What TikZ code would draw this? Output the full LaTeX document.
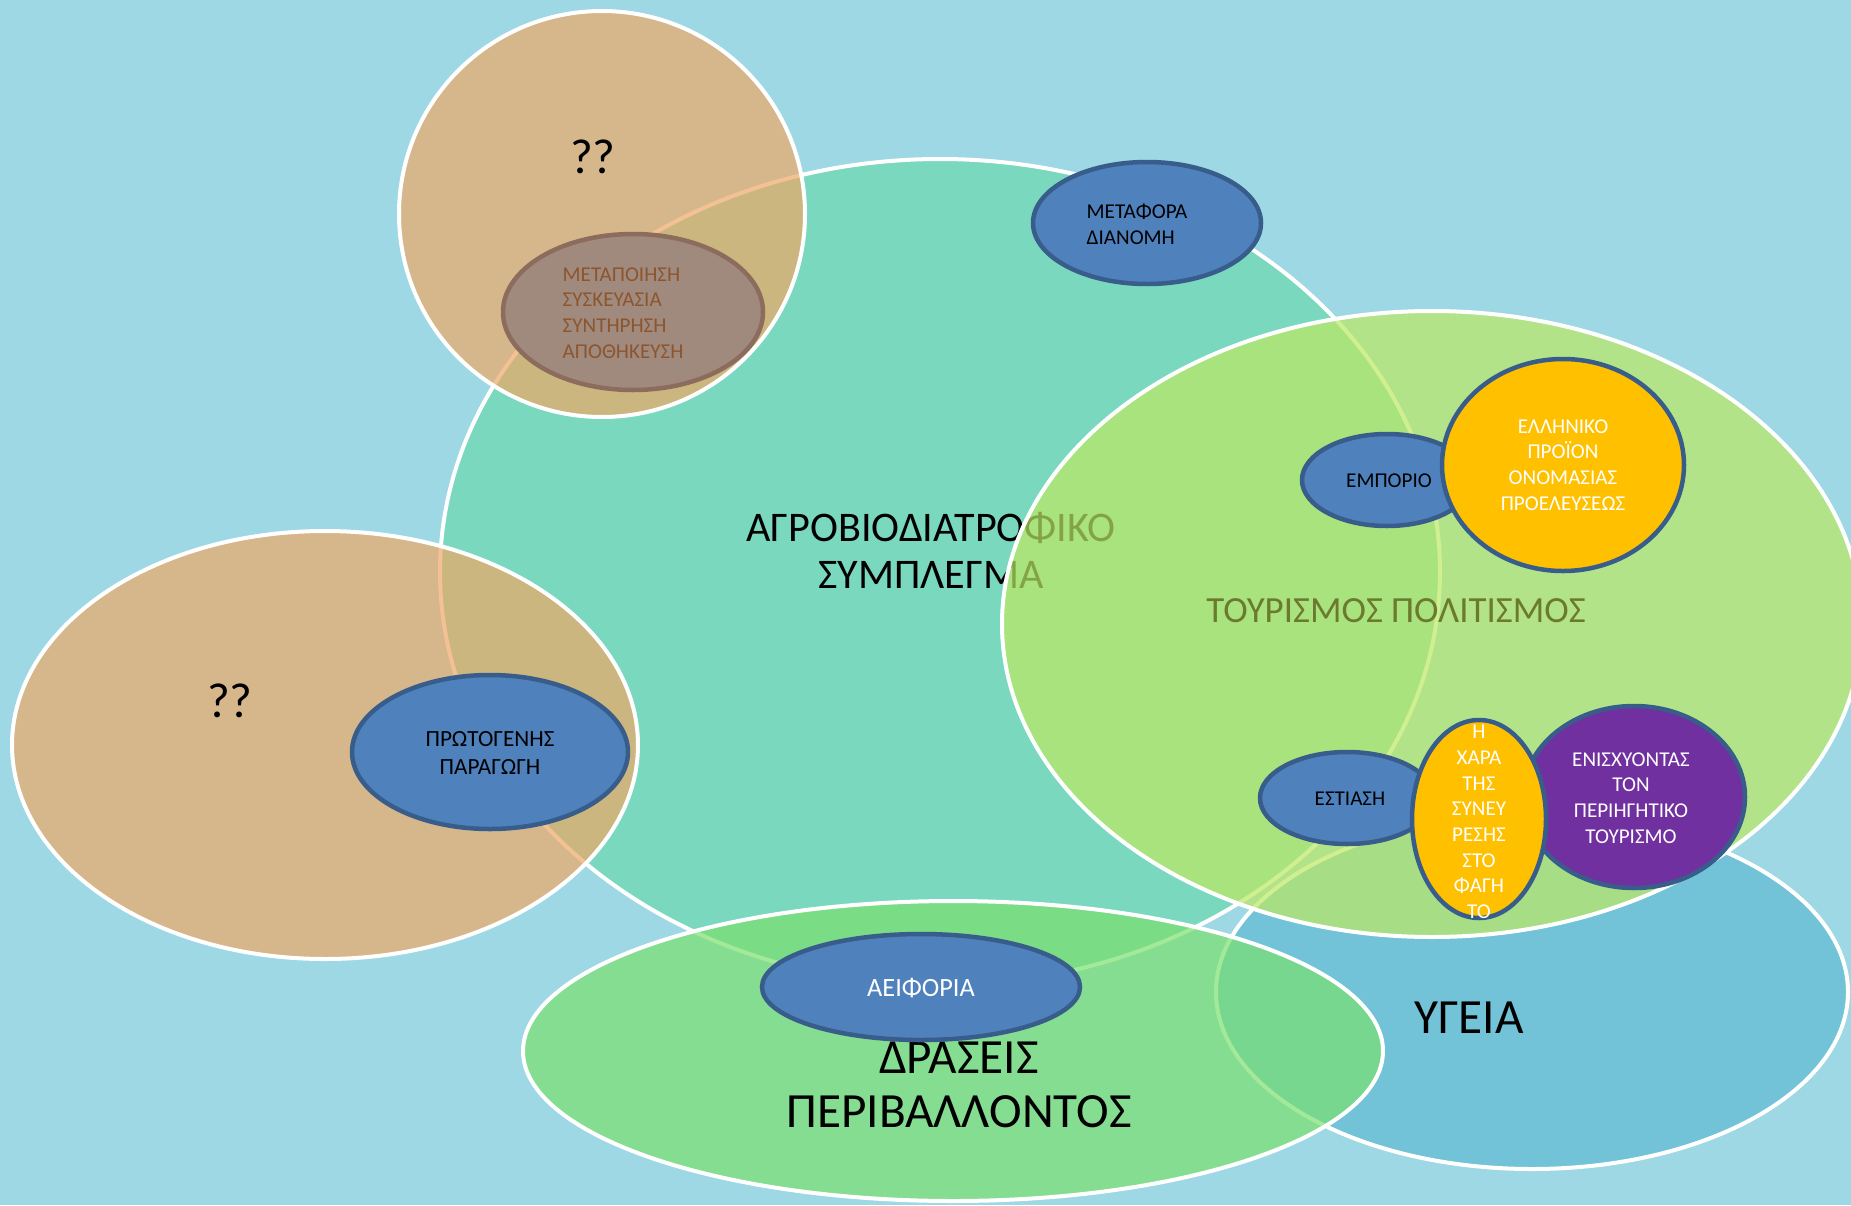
\documentclass[tikz,border=0pt]{standalone}
\usepackage{fontspec}
\setmainfont{Carlito}
\usetikzlibrary{shapes.geometric}

\definecolor{sea}{HTML}{9DD8E4}
\definecolor{agrofill}{HTML}{6CD8B0}
\definecolor{healthfill}{HTML}{61BBD3}
\definecolor{envfill}{HTML}{7BE06F}
\definecolor{tourfill}{HTML}{BDE963}
\definecolor{tanfill}{HTML}{EFA866}
\definecolor{nodeblue}{HTML}{4F81BD}
\definecolor{edgeblue}{HTML}{385D8A}
\definecolor{gold}{HTML}{FFC000}
\definecolor{grape}{HTML}{7030A0}
\definecolor{mudfill}{HTML}{A08A7E}
\definecolor{mudedge}{HTML}{8C6D5D}
\definecolor{mudtext}{HTML}{8C552D}
\definecolor{olivetext}{HTML}{6B7A2E}

\begin{document}
\begin{tikzpicture}[x=0.1mm,y=-0.1mm,
    zone/.style={ellipse,draw=white,line width=0.4mm,fill opacity=0.7,inner sep=0pt},
    topic/.style={ellipse,draw=edgeblue,line width=0.45mm,inner sep=0pt},
    txt/.style={align=center,inner sep=0pt},
    small/.style={font=\fontsize{6}{7.3}\selectfont},
    big/.style={font=\fontsize{14}{15.4}\selectfont}]
    \useasboundingbox (0,0) rectangle (1851,1205);
    \clip (0,0) rectangle (1851,1205);
    \fill[sea] (0,0) rectangle (1851,1205);

    % main zones
    \node[zone,fill=agrofill,minimum width=1000*0.1mm,minimum height=826*0.1mm] (agro) at (940,572) {};
    \node[txt,font=\fontsize{12}{13.4}\selectfont] (agro-t) at (931,550) {ΑΓΡΟΒΙΟΔΙΑΤΡΟΦΙΚΟ\\ΣΥΜΠΛΕΓΜΑ};
    \node[zone,fill=healthfill,minimum width=632*0.1mm,minimum height=354*0.1mm] (health) at (1532,992) {};
    \node[zone,fill=envfill,minimum width=860*0.1mm,minimum height=300*0.1mm] (env) at (953,1051) {};
    \node[zone,fill=tourfill,minimum width=860*0.1mm,minimum height=626*0.1mm] (tour) at (1432,624) {};
    \node[zone,fill=tanfill,minimum width=406*0.1mm,minimum height=406*0.1mm] (unkA) at (602,214) {};
    \node[zone,fill=tanfill,minimum width=626*0.1mm,minimum height=428*0.1mm] (unkB) at (325,745) {};

    \node[txt,big] (health-t) at (1469,1018) {ΥΓΕΙΑ};
    \node[txt,big] (env-t) at (959,1085) {ΔΡΑΣΕΙΣ\\ΠΕΡΙΒΑΛΛΟΝΤΟΣ};
    \node[txt,text=olivetext,font=\fontsize{10.5}{12}\selectfont] (tour-t) at (1396,611) {ΤΟΥΡΙΣΜΟΣ ΠΟΛΙΤΙΣΜΟΣ};
    \node[txt,big] (unkA-t) at (593,157) {??};
    \node[txt,big] (unkB-t) at (230,701) {??};

    % activities
    \node[topic,draw=mudedge,fill=mudfill,minimum width=260*0.1mm,minimum height=156*0.1mm] (proc) at (633,312) {};
    \node[txt,small,align=left,anchor=west,text=mudtext] (proc-t) at (562,313) {ΜΕΤΑΠΟΙΗΣΗ\\ΣΥΣΚΕΥΑΣΙΑ\\ΣΥΝΤΗΡΗΣΗ\\ΑΠΟΘΗΚΕΥΣΗ};
    \node[topic,fill=nodeblue,minimum width=228*0.1mm,minimum height=122*0.1mm] (trans) at (1147,223) {};
    \node[txt,small,align=left,anchor=west] (trans-t) at (1086,224) {ΜΕΤΑΦΟΡΑ\\ΔΙΑΝΟΜΗ};
    \node[topic,fill=nodeblue,minimum width=276*0.1mm,minimum height=154*0.1mm] (prim) at (490,752) {};
    \node[txt,font=\fontsize{6.6}{7.8}\selectfont] (prim-t) at (490,753) {ΠΡΩΤΟΓΕΝΗΣ\\ΠΑΡΑΓΩΓΗ};
    \node[topic,fill=nodeblue,minimum width=318*0.1mm,minimum height=106*0.1mm] (sust) at (921,987) {};
    \node[txt,text=white,font=\fontsize{7.5}{9}\selectfont] (sust-t) at (921,988) {ΑΕΙΦΟΡΙΑ};
    \node[topic,fill=nodeblue,minimum width=170*0.1mm,minimum height=92*0.1mm] (trade) at (1387,480) {};
    \node[txt,small] (trade-t) at (1389,481) {ΕΜΠΟΡΙΟ};
    \node[topic,fill=gold,minimum width=242*0.1mm,minimum height=212*0.1mm] (pdo) at (1563,465) {};
    \node[txt,small,text=white] (pdo-t) at (1563,465) {ΕΛΛΗΝΙΚΟ\\ΠΡΟΪΟΝ\\ΟΝΟΜΑΣΙΑΣ\\ΠΡΟΕΛΕΥΣΕΩΣ};
    \node[topic,fill=nodeblue,minimum width=174*0.1mm,minimum height=92*0.1mm] (dine) at (1347,798) {};
    \node[txt,small] (dine-t) at (1350,799) {ΕΣΤΙΑΣΗ};
    \node[topic,fill=grape,minimum width=222*0.1mm,minimum height=182*0.1mm] (boost) at (1634,797) {};
    \node[txt,small,text=white] (boost-t) at (1631,798) {ΕΝΙΣΧΥΟΝΤΑΣ\\ΤΟΝ\\ΠΕΡΙΗΓΗΤΙΚΟ\\ΤΟΥΡΙΣΜΟ};
    \node[topic,fill=gold,minimum width=134*0.1mm,minimum height=198*0.1mm] (joy) at (1479,819) {};
    \node[txt,small,text=white] (joy-t) at (1479,822) {Η\\ΧΑΡΑ\\ΤΗΣ\\ΣΥΝΕΥ\\ΡΕΣΗΣ\\ΣΤΟ\\ΦΑΓΗ\\ΤΟ};
\end{tikzpicture}
\end{document}
